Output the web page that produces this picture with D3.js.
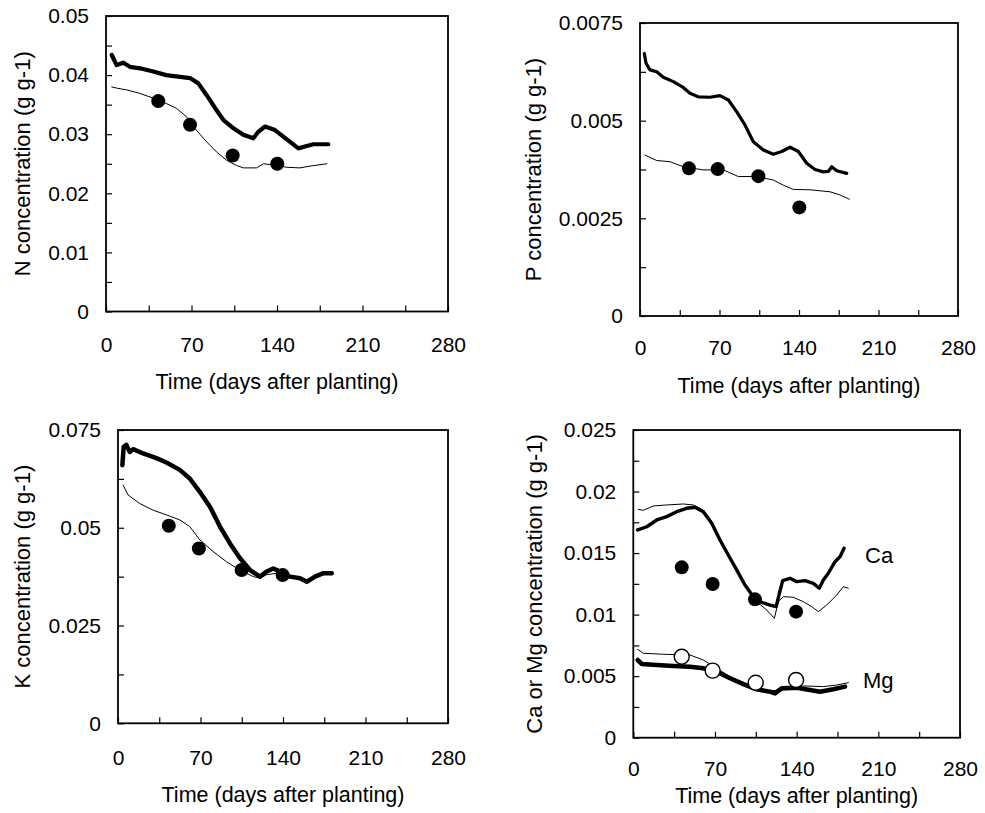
<!DOCTYPE html>
<html lang="en">
<head>
<meta charset="UTF-8">
<title>Nutrient concentrations</title>
<script src="https://d3js.org/d3.v7.min.js"></script>
<style>
  * { margin: 0; padding: 0; }
  body { background: #fff; }
  svg text { font-family: "Liberation Sans", Arial, sans-serif; fill: #000; }
</style>
</head>
<body>
<div id="chart"></div>
<script>
// ---- data: [day, value] ----
const xTicks = [0, 70, 140, 210, 280];

const nThick = [[4.7,0.0434],[8.7,0.0417],[14.2,0.0421],[19.6,0.0414],[27.8,0.04115],[38.7,0.0406],[49.3,0.0400],[60.6,0.0397],[68.8,0.0395],[75.6,0.0386],[82.4,0.0366],[89.4,0.0344],[96.2,0.0324],[104.4,0.0310],[112.4,0.0299],[120.6,0.0293],[124.7,0.0304],[130.2,0.0313],[138.3,0.0307],[145.2,0.0296],[152,0.0285],[157.5,0.0276],[164.3,0.0280],[169.8,0.0283],[182,0.0283]];
const nThin = [[4.7,0.0380],[8.7,0.0378],[16.9,0.0375],[27.8,0.0369],[38.7,0.0361],[49.3,0.0352],[57.5,0.0344],[65.7,0.0330],[73.9,0.0307],[82.4,0.0287],[90.5,0.0270],[98.7,0.0256],[106.9,0.0247],[112.4,0.0243],[123.3,0.0243],[128.8,0.0250],[137,0.0248],[148,0.0244],[158.8,0.0243],[167,0.0246],[180.7,0.0250]];
const nObs = [[42.8,0.0356],[68.8,0.0316],[103.7,0.0264],[140.2,0.0250]];
const nTicks = [0, 0.01, 0.02, 0.03, 0.04, 0.05];

const pThick = [[3.8,0.00672],[5.3,0.00647],[8.8,0.00630],[14.7,0.00625],[20.5,0.00611],[29.3,0.00600],[38.1,0.00585],[44,0.00570],[51.3,0.00561],[61.6,0.00560],[70.4,0.00564],[77.8,0.00553],[85.1,0.00523],[92.4,0.00489],[99.8,0.00446],[108.6,0.00425],[117.4,0.00414],[124.8,0.00421],[132.1,0.00432],[139.4,0.00421],[146.8,0.00391],[154.1,0.00375],[161.4,0.00369],[165.8,0.00370],[168.8,0.00382],[173.2,0.00372],[182,0.00365]];
const pThin = [[4.4,0.00412],[14.7,0.00398],[26.4,0.00395],[38.1,0.00382],[55.7,0.00374],[73.3,0.00374],[86.6,0.00357],[102.7,0.00357],[117.4,0.00348],[126.2,0.00335],[135,0.00324],[149.7,0.00323],[167.3,0.00318],[176.1,0.00310],[184.3,0.00299]];
const pObs = [[43.1,0.00378],[68.4,0.00376],[104.2,0.00358],[140.3,0.00278]];
const pTicks = [0, 0.0025, 0.005, 0.0075];

const kThick = [[3.7,0.0660],[4.8,0.0707],[7.1,0.0712],[9.9,0.0694],[12.8,0.0701],[21.3,0.0690],[32.6,0.0678],[41.1,0.0667],[52.4,0.0648],[60.9,0.0626],[69.4,0.0592],[78,0.0554],[86.5,0.0503],[95,0.0460],[103.5,0.0422],[112,0.0392],[120.5,0.0375],[126.1,0.0388],[131.8,0.0396],[137.5,0.0388],[146,0.0375],[154.5,0.0371],[160.2,0.0362],[167.2,0.0375],[174.3,0.0384],[181.4,0.0384]];
const kThin = [[4.3,0.0609],[8.5,0.0584],[18.4,0.0562],[29.8,0.0545],[41.1,0.0533],[52.4,0.0520],[60.9,0.0503],[69.4,0.0469],[80.8,0.0439],[92.1,0.0413],[103.5,0.0392],[114.8,0.0375],[120.5,0.0371],[126,0.0380],[137.5,0.0385],[146,0.0375],[160,0.0364],[174,0.0384],[180,0.0385]];
const kObs = [[43.1,0.0505],[68.6,0.0447],[104.9,0.0392],[139.7,0.0379]];
const kTicks = [0, 0.025, 0.05, 0.075];

const caThick = [[3.8,0.01688],[11.5,0.01714],[20.1,0.01769],[28.6,0.01796],[37.2,0.01836],[45.7,0.01864],[52.9,0.01872],[60,0.01836],[67.2,0.01742],[74.3,0.01606],[81.4,0.01484],[88.6,0.01363],[95.7,0.01241],[102.9,0.01146],[110,0.01100],[117.2,0.01078],[122.4,0.01065],[125.2,0.01173],[128,0.01276],[134.3,0.01295],[140,0.01268],[147.2,0.01276],[154.3,0.01254],[159.4,0.01214],[162.9,0.01281],[167.1,0.01336],[172.9,0.01430],[177.2,0.01471],[180.6,0.01539]];
const caThin = [[4.3,0.01856],[8.6,0.01847],[17.1,0.01883],[28.6,0.01891],[42.9,0.01899],[51.4,0.01891],[60,0.01850],[67,0.01760],[74,0.01620],[81,0.01495],[88.6,0.01370],[95.7,0.01240],[100,0.01170],[105.7,0.01105],[114.3,0.01038],[120.9,0.00970],[124.3,0.01105],[128.6,0.01146],[137.1,0.01141],[145.7,0.01105],[152.9,0.01065],[158.6,0.01024],[165.8,0.01078],[174.3,0.01159],[180,0.01227],[184.3,0.01214]];
const caObs = [[41.5,0.01384],[68,0.01249],[104.3,0.01124],[139.5,0.01024]];

const mgThick = [[3.8,0.00631],[7.2,0.00599],[20.1,0.00591],[34.3,0.00583],[48.6,0.00577],[60,0.00564],[71.5,0.00536],[82.9,0.00483],[94.3,0.00436],[105.7,0.00393],[117.1,0.00374],[121.4,0.00360],[127.2,0.00401],[140,0.00406],[151.4,0.00388],[160,0.00374],[171.4,0.00393],[181.4,0.00415]];
const mgThin = [[3.8,0.00718],[8.6,0.00686],[25.7,0.00678],[48.6,0.00672],[60,0.00631],[71.5,0.00564],[82.9,0.00496],[94.3,0.00450],[105.7,0.00400],[117,0.00380],[122.9,0.00385],[128.6,0.00415],[148.6,0.00420],[162.9,0.00415],[174.3,0.00428],[184.3,0.00447]];
const mgObs = [[41.5,0.00658],[68,0.00545],[104.9,0.00447],[139.5,0.00469]];
const camgTicks = [0, 0.005, 0.01, 0.015, 0.02, 0.025];

// ---- layout ----
const svg = d3.select("#chart").append("svg")
    .attr("width", 985)
    .attr("height", 813);

const panels = [
  { left: 106, right: 448, top: 16, bottom: 311.5, yMax: 0.05, yTicks: nTicks, minor: 0.005,
    yTitle: "N concentration (g g-1)", yTitleX: 30, xLabGap: 25.5, xTitleY: 389, thick: 4.2,
    series: [{ data: nThick, thick: true }, { data: nThin }], obs: [{ data: nObs }] },
  { left: 640, right: 958, top: 23, bottom: 316, yMax: 0.0075, yTicks: pTicks, minor: 0.00125,
    yTitle: "P concentration (g g-1)", yTitleX: 541, xLabGap: 24.5, xTitleY: 393, thick: 3.2,
    series: [{ data: pThick, thick: true }, { data: pThin }], obs: [{ data: pObs }] },
  { left: 118, right: 448, top: 430, bottom: 723.3, yMax: 0.075, yTicks: kTicks, minor: 0.0125,
    yTitle: "K concentration (g g-1)", yTitleX: 30, xLabGap: 26.5, xTitleY: 802, thick: 4.5,
    series: [{ data: kThin }, { data: kThick, thick: true }], obs: [{ data: kObs }] },
  { left: 633.3, right: 960, top: 430, bottom: 737.7, yMax: 0.025, yTicks: camgTicks, minor: 0.0025,
    yTitle: "Ca or Mg concentration (g g-1)", yTitleX: 542, xLabGap: 23, xTitleY: 803, thick: 3.4,
    series: [{ data: caThin }, { data: caThick, thick: true }, { data: mgThin }, { data: mgThick, thick: true, w: 4.6 }],
    obs: [{ data: caObs }, { data: mgObs, open: true }],
    notes: [{ text: "Ca", x: 865, y: 563 }, { text: "Mg", x: 863, y: 688 }] }
];

const fmt = d3.format("~g");

panels.forEach(p => {
  const x = d3.scaleLinear().domain([0, 280]).range([p.left, p.right]);
  const y = d3.scaleLinear().domain([0, p.yMax]).range([p.bottom, p.top]);
  const g = svg.append("g");

  const minorY = d3.range(0, Math.round(p.yMax / p.minor) + 1).map(i => i * p.minor);
  const minorX = d3.range(0, 281, 35);

  // inward ticks
  g.append("g")
    .attr("transform", `translate(${p.left},0)`)
    .call(d3.axisLeft(y).tickValues(minorY).tickSizeInner(-6).tickSizeOuter(0).tickFormat(""))
    .call(a => a.select(".domain").remove())
    .call(a => a.selectAll("line").attr("stroke-width", 1.2));
  g.append("g")
    .attr("transform", `translate(0,${p.bottom})`)
    .call(d3.axisBottom(x).tickValues(minorX).tickSizeInner(-6).tickSizeOuter(0).tickFormat(""))
    .call(a => a.select(".domain").remove())
    .call(a => a.selectAll("line").attr("stroke-width", 1.2));

  // tick labels
  g.append("g")
    .attr("transform", `translate(${p.left},0)`)
    .call(d3.axisLeft(y).tickValues(p.yTicks).tickSize(0).tickPadding(17).tickFormat(fmt))
    .call(a => a.select(".domain").remove())
    .call(a => a.selectAll("text").attr("font-size", 21).attr("fill", "#000")
        .attr("font-family", '"Liberation Sans", Arial, sans-serif'));
  g.append("g")
    .attr("transform", `translate(0,${p.bottom})`)
    .call(d3.axisBottom(x).tickValues(xTicks).tickSize(0).tickPadding(p.xLabGap))
    .call(a => a.select(".domain").remove())
    .call(a => a.selectAll("text").attr("font-size", 21).attr("fill", "#000")
        .attr("font-family", '"Liberation Sans", Arial, sans-serif'));

  // frame
  g.append("rect")
    .attr("x", p.left).attr("y", p.top)
    .attr("width", p.right - p.left).attr("height", p.bottom - p.top)
    .attr("fill", "none").attr("stroke", "#000").attr("stroke-width", 1.8);

  // lines
  const line = d3.line().x(d => x(d[0])).y(d => y(d[1]));
  p.series.forEach(s => {
    g.append("path")
      .datum(s.data)
      .attr("d", line)
      .attr("fill", "none")
      .attr("stroke", "#000")
      .attr("stroke-width", s.thick ? (s.w || p.thick) : 1)
      .attr("stroke-linejoin", "round")
      .attr("stroke-linecap", "round");
  });

  // observations
  p.obs.forEach(o => {
    g.selectAll(null)
      .data(o.data)
      .enter()
      .append("circle")
      .attr("cx", d => x(d[0]))
      .attr("cy", d => y(d[1]))
      .attr("r", o.open ? 7.5 : 7)
      .attr("fill", o.open ? "#fff" : "#000")
      .attr("stroke", "#000")
      .attr("stroke-width", o.open ? 1.4 : 0);
  });

  // titles
  g.append("text")
    .attr("x", (p.left + p.right) / 2)
    .attr("y", p.xTitleY)
    .attr("text-anchor", "middle")
    .attr("font-size", 21.5)
    .text("Time (days after planting)");
  g.append("text")
    .attr("transform", `translate(${p.yTitleX},${(p.top + p.bottom) / 2}) rotate(-90)`)
    .attr("text-anchor", "middle")
    .attr("font-size", 22)
    .text(p.yTitle);

  (p.notes || []).forEach(n => {
    g.append("text")
      .attr("x", n.x).attr("y", n.y)
      .attr("font-size", 22)
      .text(n.text);
  });
});
</script>
</body>
</html>
